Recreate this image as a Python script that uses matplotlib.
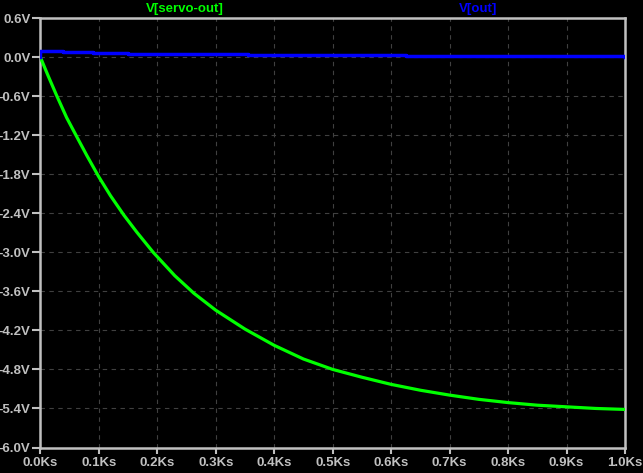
import matplotlib
matplotlib.use("Agg")
import matplotlib.pyplot as plt
import numpy as np

# servo-out trace (seconds, volts)
servo_t = [0, 13, 27.4, 45, 62.7, 80, 100, 120, 143, 165, 193, 230, 262.7,
           300, 350, 400, 450, 500, 550, 600, 650, 700, 750, 800, 850, 900,
           950, 1000]
servo_v = [0, -0.28, -0.58, -0.93, -1.23, -1.52, -1.84, -2.13, -2.43, -2.69,
           -3.00, -3.36, -3.63, -3.89, -4.18, -4.43, -4.64, -4.80, -4.92,
           -5.03, -5.12, -5.195, -5.26, -5.31, -5.35, -5.375, -5.40, -5.415]

# out trace: small steps near zero
out_t = [0, 0, 39, 90, 150, 232, 356, 625, 1000]
out_v = [0, 0.097, 0.077, 0.06, 0.05, 0.04, 0.025, 0.015, 0.0]

yticks = np.arange(-6.0, 0.61, 0.6)
xticks = np.arange(0, 1001, 100)
ylabels = ["%.1fV" % (0.0 if abs(v) < 1e-9 else v) for v in yticks]
xlabels = ["%.1fKs" % (t / 1000) for t in xticks]

W, H = 643, 473
fig = plt.figure(figsize=(W / 100, H / 100), dpi=100, facecolor="black")
ax = fig.add_axes([40.3 / W, 1 - 447.5 / H, (625 - 40.3) / W, (447.5 - 18) / H])
ax.set_facecolor("black")

gray = "#c0c0c0"
font = "Liberation Sans"

ax.plot(servo_t, servo_v, color="#00ff00", lw=2.3, solid_joinstyle="round", zorder=3)
ax.plot(out_t, out_v, color="#0000ff", lw=2.5, drawstyle="steps-post", zorder=4)

ax.set_xlim(0, 1000)
ax.set_ylim(-6.0, 0.6)
ax.set_xticks(xticks)
ax.set_yticks(yticks)
ax.set_xticklabels(xlabels, fontfamily=font, fontsize=9.5, fontweight="bold", color=gray)
ax.set_yticklabels(ylabels, fontfamily=font, fontsize=9.5, fontweight="bold", color=gray)
ax.tick_params(axis="y", length=6, width=1.5, color=gray, pad=1)
ax.tick_params(axis="x", length=4.5, width=1.5, color=gray, pad=2)

ax.grid(True, color="#404040", lw=0.8, linestyle=(0, (4, 4)))
ax.set_axisbelow(True)
for s in ax.spines.values():
    s.set_color(gray)
    s.set_linewidth(1.8)

fig.text(185 / W, 1 - 9 / H, "V[servo-out]", color="#00ff00", fontfamily=font,
         fontsize=9.5, fontweight="bold", ha="center", va="center")
fig.text(478 / W, 1 - 9 / H, "V[out]", color="#0000ff", fontfamily=font,
         fontsize=9.5, fontweight="bold", ha="center", va="center")

fig.savefig("out.png", dpi=100, facecolor="black")
